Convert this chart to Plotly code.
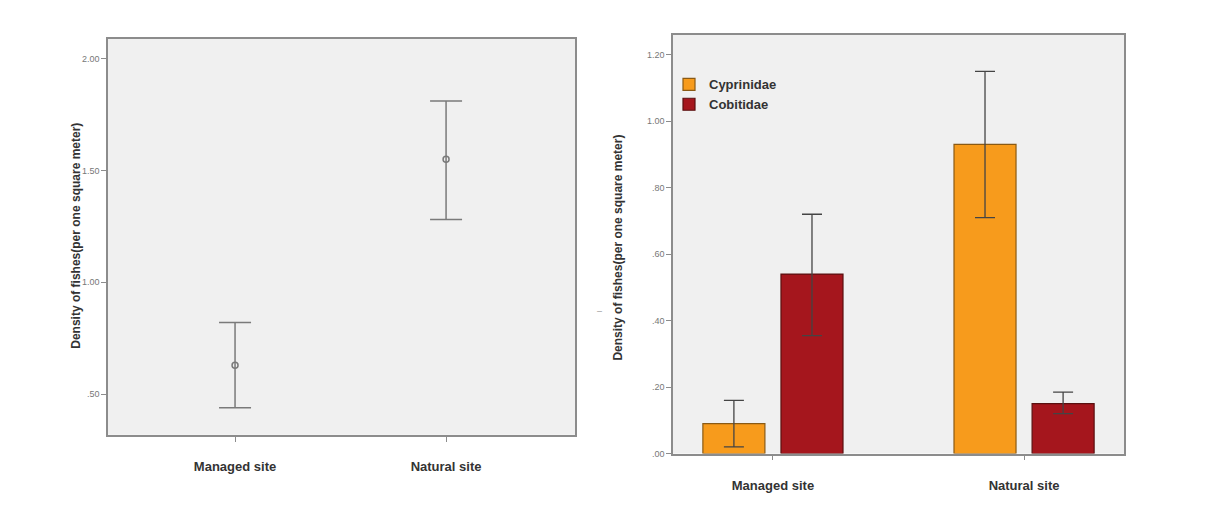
import plotly.graph_objects as go

# ---- data ----
sites = ["Managed site", "Natural site"]

# left panel: mean density with error bars
total_mean = [0.63, 1.55]
total_upper = [0.82, 1.81]
total_lower = [0.44, 1.28]

# right panel: by family
families = ["Cyprinidae", "Cobitidae"]
cyp_mean = [0.09, 0.93]
cyp_upper = [0.16, 1.15]
cyp_lower = [0.02, 0.71]
cob_mean = [0.54, 0.15]
cob_upper = [0.72, 0.185]
cob_lower = [0.355, 0.12]

left_ticks = [0.5, 1.0, 1.5, 2.0]
left_ticktext = [".50", "1.00", "1.50", "2.00"]
right_ticks = [0.0, 0.2, 0.4, 0.6, 0.8, 1.0, 1.2]
right_ticktext = [".00", ".20", ".40", ".60", ".80", "1.00", "1.20"]

OFF_X, OFF_Y = 7, 6  # page body margin
W, H = 1200, 509
def px_x(p): return (p - OFF_X) / W
def px_y(p): return 1 - (p - OFF_Y) / H

fig = go.Figure()

fig.add_trace(go.Scatter(
    x=sites, y=total_mean, mode="markers",
    marker=dict(symbol="circle-open", size=6, color="#7a7a7a", line=dict(width=1.5)),
    error_y=dict(type="data", symmetric=False,
                 array=[u - m for u, m in zip(total_upper, total_mean)],
                 arrayminus=[m - l for l, m in zip(total_lower, total_mean)],
                 color="#7a7a7a", thickness=1.5, width=16),
    showlegend=False, xaxis="x", yaxis="y"))

colors = {"Cyprinidae": "#F79B1C", "Cobitidae": "#A5161D"}
edge = {"Cyprinidae": "#8a5a14", "Cobitidae": "#5a1010"}
series = {"Cyprinidae": (cyp_mean, cyp_upper, cyp_lower, -0.279),
          "Cobitidae": (cob_mean, cob_upper, cob_lower, 0.032)}
for fam in families:
    m, u, l, off = series[fam]
    fig.add_trace(go.Bar(
        x=sites, y=m, name="<b>" + fam + "</b>", width=0.247, offset=off,
        marker=dict(color=colors[fam], line=dict(color=edge[fam], width=1.2)),
        error_y=dict(type="data", symmetric=False,
                     array=[a - b for a, b in zip(u, m)],
                     arrayminus=[b - c for c, b in zip(l, m)],
                     color="#444444", thickness=1.3, width=10),
        xaxis="x2", yaxis="y2"))

axis_common = dict(showline=True, mirror=True, linecolor="#8c8c8c", linewidth=1.5,
                   showgrid=False, zeroline=False, ticks="outside", ticklen=5,
                   tickcolor="#8c8c8c", tickwidth=1)

xtick_font = dict(size=13, color="#333333")

fig.update_layout(
    width=W, height=H,
    margin=dict(l=0, r=0, t=0, b=0),
    paper_bgcolor="white", plot_bgcolor="#F0F0F0",
    font=dict(family="Liberation Sans, Arial, sans-serif"),
    barmode="overlay",
    xaxis=dict(domain=[px_x(107), px_x(574)], range=[-0.602, 1.611], anchor="y",
               tickvals=sites, ticktext=["<b>" + s + "</b>" for s in sites],
               tickfont=xtick_font, ticklabelstandoff=14, **axis_common),
    yaxis=dict(domain=[px_y(437), px_y(37)], range=[0.319, 2.088], anchor="x",
               tickvals=left_ticks, ticktext=left_ticktext,
               tickfont=dict(size=9, color="#777777"), **axis_common),
    xaxis2=dict(domain=[px_x(672), px_x(1123)], range=[-0.398, 1.398], anchor="y2",
                tickvals=sites, ticktext=["<b>" + s + "</b>" for s in sites],
                tickfont=xtick_font, ticklabelstandoff=14, **axis_common),
    yaxis2=dict(domain=[px_y(456), px_y(33)], range=[0, 1.26], anchor="x2",
                tickvals=right_ticks, ticktext=right_ticktext,
                tickfont=dict(size=9, color="#777777"), **axis_common),
    legend=dict(x=px_x(668), y=px_y(68), xanchor="left", yanchor="top",
                bgcolor="rgba(0,0,0,0)", font=dict(size=13, color="#333333"),
                tracegroupgap=0, itemwidth=30),
)

title = "<b>Density of fishes(per one square meter)</b>"
fig.add_annotation(text=title, x=px_x(66), y=px_y(236), xref="paper", yref="paper",
                   textangle=-90, showarrow=False, font=dict(size=12, color="#333333"))
fig.add_annotation(text=title, x=px_x(617), y=px_y(248), xref="paper", yref="paper",
                   textangle=-90, showarrow=False, font=dict(size=12, color="#333333"))
fig.add_annotation(text="–", x=px_x(598), y=px_y(312), xref="paper", yref="paper",
                   showarrow=False, font=dict(size=9, color="#999999"))

fig.write_html("out.html")
